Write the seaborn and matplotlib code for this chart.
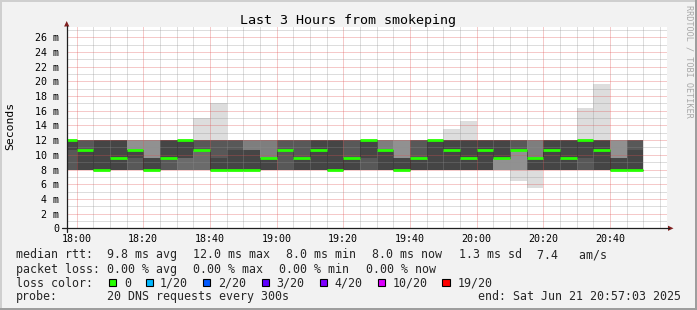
import numpy as np
import pandas as pd
import matplotlib
matplotlib.use("Agg")
import matplotlib.pyplot as plt
import matplotlib.dates as mdates
from matplotlib.patches import Rectangle, Polygon
from matplotlib.lines import Line2D
from matplotlib.ticker import MultipleLocator, FuncFormatter
import seaborn as sns

# ---------------- data ----------------
title = "Last 3 Hours from smokeping"
end_time = pd.Timestamp("2025-06-21 20:57:03")
bar_start = pd.date_range("2025-06-21 17:55", periods=35, freq="5min")
step_minutes = 5
pings_per_step = 20

# discrete DNS response levels (ms) and number of the 20 pings at each level
rtt_levels_ms = [8.0, 9.5, 10.6, 12.0]
n_at_8_0 = [8, 9, 11, 9, 8, 11, 8, 7, 7, 11, 11, 11, 9, 8, 9, 9, 11, 9,
            8, 9, 11, 9, 9, 9, 9, 9, 5, 4, 8, 9, 9, 8, 9, 11, 11]
n_at_9_5 = [0, 0, 0, 2, 1, 4, 3, 2, 0, 1, 0, 0, 5, 0, 3, 0, 0, 3,
            1, 0, 4, 3, 0, 0, 2, 0, 6, 0, 5, 0, 2, 1, 0, 4, 0]
n_at_10_6 = [1, 3, 0, 0, 6, 0, 0, 0, 5, 0, 1, 3, 0, 4, 0, 2, 0, 0,
             0, 5, 0, 0, 0, 2, 0, 2, 0, 7, 0, 2, 0, 0, 2, 0, 1]
n_at_12_0 = [11, 8, 9, 9, 5, 5, 9, 11, 7, 7, 8, 6, 6, 8, 8, 9, 9, 8,
             11, 6, 5, 8, 11, 8, 8, 9, 9, 8, 6, 9, 9, 10, 8, 5, 8]
nan = np.nan
high_outlier_ms = [nan] * 8 + [15.0, 17.1] + [nan] * 13 + [13.55, 14.6] + [nan] * 6 + [16.3, 19.6, nan, nan]
low_outlier_ms = [nan] * 27 + [6.45, 5.45] + [nan] * 6

loss_labels = ["0", "1/20", "2/20", "3/20", "4/20", "10/20", "19/20"]
loss_colors = ["#26ff00", "#00b8ff", "#0059ff", "#5e00ff", "#7e00ff", "#dd00ff", "#ff0000"]

yticks_major = list(range(0, 27, 2))

legend_rows = [
    [(16, "median rtt:"), (107, "9.8 ms avg"), (193, "12.0 ms max"), (286, "8.0 ms min"),
     (372, "8.0 ms now"), (459, "1.3 ms sd"), (537, "7.4   am/s")],
    [(16, "packet loss:"), (107, "0.00 % avg"), (193, "0.00 % max"), (279, "0.00 % min"),
     (365.5, "0.00 % now")],
]
loss_box_x = [109, 145.7, 203, 261.7, 320, 377.7, 442.3]
loss_text_x = [124, 160, 218, 276.7, 334, 392.3, 457.3]
probe_text = "20 DNS requests every 300s"
end_text = "end: Sat Jun 21 20:57:03 2025"

# ---------------- build pings ----------------
pings = []
for k in range(len(bar_start)):
    p = ([rtt_levels_ms[0]] * n_at_8_0[k] + [rtt_levels_ms[1]] * n_at_9_5[k] +
         [rtt_levels_ms[2]] * n_at_10_6[k] + [rtt_levels_ms[3]] * n_at_12_0[k])
    if not np.isnan(high_outlier_ms[k]):
        p.append(high_outlier_ms[k])
    if not np.isnan(low_outlier_ms[k]):
        p.append(low_outlier_ms[k])
    pings.append(sorted(p))
pings = np.array(pings)  # (35, 20)
median = (pings[:, 9] + pings[:, 10]) / 2.0

x0 = mdates.date2num(bar_start.to_pydatetime())
bw = step_minutes / 1440.0
x_end = mdates.date2num(end_time.to_pydatetime())
x_begin = mdates.date2num((end_time - pd.Timedelta(hours=3)).to_pydatetime())

# ---------------- figure ----------------
W, H, DPI = 697, 310, 100
sns.set_style("white")
plt.rcParams["font.family"] = ["DejaVu Sans Mono", "DejaVu Sans"]

fig = plt.figure(figsize=(W / DPI, H / DPI), dpi=DPI, facecolor="#f2f2f2")

def fx(px):
    return px / W

def fy(py):
    return 1 - py / H

ax_left, ax_right, ax_top, ax_bottom = 66.7, 666.7, 27.3, 228.3
ax = fig.add_axes([fx(ax_left), fy(ax_bottom), (ax_right - ax_left) / W, (ax_bottom - ax_top) / H])
ax.set_facecolor("white")
px_per_ms = 7.35
ax.set_xlim(x_begin, x_end)
ax.set_ylim(0, (ax_bottom - ax_top) / px_per_ms)

# smoke layers (outer light -> inner dark)
half = pings_per_step // 2
for i in range(1, half + 1):
    g = int(190 / half * (half - i)) + 50
    col = "#%02x%02x%02x" % (g, g, g)
    lo = pings[:, i - 1]
    hi = pings[:, pings_per_step - i]
    ax.bar(x0, hi - lo, bottom=lo, width=bw, align="edge", color=col,
           linewidth=0, antialiased=False, zorder=1)

# grid on top of smoke
ax.xaxis.set_major_locator(mdates.MinuteLocator(byminute=[0, 20, 40]))
ax.xaxis.set_minor_locator(mdates.MinuteLocator(byminute=range(0, 60, 5)))
ax.xaxis.set_major_formatter(mdates.DateFormatter("%H:%M"))
ax.yaxis.set_major_locator(MultipleLocator(2))
ax.yaxis.set_minor_locator(MultipleLocator(1))
ax.yaxis.set_major_formatter(FuncFormatter(lambda v, p: "0" if abs(v) < 1e-9 else "%d m" % round(v)))
ax.grid(which="minor", color=(0.56, 0.56, 0.56), alpha=0.6, linewidth=0.72,
        linestyle=(0, (1, 1)), zorder=2)
ax.grid(which="major", color=(0.87, 0.31, 0.31), alpha=0.6, linewidth=0.72,
        linestyle=(0, (1, 1)), zorder=2)
ax.set_axisbelow(False)

# median: dark step connection + loss-coloured segments
xs = list(x0) + [x0[-1] + bw]
ys = list(median) + [median[-1]]
sns.lineplot(x=xs, y=ys, ax=ax, drawstyle="steps-post", color="#202020",
             linewidth=0.72, linestyle=(0, (1, 1)), estimator=None, sort=False, zorder=3)
ax.hlines(median, x0, x0 + bw, colors=loss_colors[0], linewidth=2.0, zorder=4)
ax.set_xlim(x_begin, x_end)

for s in ax.spines.values():
    s.set_visible(False)
ax.tick_params(axis="both", which="major", labelsize=7.2, colors="#000000")
ax.tick_params(axis="x", which="major", length=2, width=0.72, color="#e07070", pad=2.0)
ax.tick_params(axis="x", which="minor", length=0)
ax.tick_params(axis="y", which="major", length=2, width=0.72, color="#1f1f1f", pad=3.4)
ax.tick_params(axis="y", which="minor", length=0)
ax.set_xlabel("")
ax.set_ylabel("")

# axis lines and arrows
axis_col = "#1f1f1f"
arrow_col = "#802020"
fig.add_artist(Line2D([fx(62), fx(668.5)], [fy(ax_bottom), fy(ax_bottom)], color=axis_col, lw=0.9))
fig.add_artist(Line2D([fx(ax_left), fx(ax_left)], [fy(232), fy(26)], color=axis_col, lw=0.9))
fig.add_artist(Polygon([[fx(668), fy(ax_bottom - 2.6)], [fx(668), fy(ax_bottom + 2.6)], [fx(673.5), fy(ax_bottom)]],
                       closed=True, color=arrow_col, lw=0))
fig.add_artist(Polygon([[fx(ax_left - 2.6), fy(26.5)], [fx(ax_left + 2.6), fy(26.5)], [fx(ax_left), fy(21)]],
                       closed=True, color=arrow_col, lw=0))

# texts
fig.text(fx(348), fy(24.3), title, ha="center", va="baseline", fontsize=9.6, color="black")
fig.text(fx(10.5), fy(126), "Seconds", rotation=90, ha="center", va="center", fontsize=8.2, color="black")
fig.text(fx(688.5), fy(61), "RRDTOOL / TOBI OETIKER", rotation=270, ha="center", va="center",
         fontsize=6.1, color="#a8a8a8")

leg_fs = 8.4
row_baselines = [258.3, 272.6, 286.6, 300.2]
for row, yb in zip(legend_rows, row_baselines[:2]):
    for xpos, s in row:
        fig.text(fx(xpos), fy(yb), s, ha="left", va="baseline", fontsize=leg_fs)
fig.text(fx(16), fy(row_baselines[2]), "loss color:", ha="left", va="baseline", fontsize=leg_fs)
for bx, tx, lab, col in zip(loss_box_x, loss_text_x, loss_labels, loss_colors):
    fig.add_artist(Rectangle((fx(bx), fy(286.3)), 7.3 / W, 7.6 / H, facecolor=col,
                             edgecolor="black", linewidth=0.8))
    fig.text(fx(tx), fy(row_baselines[2]), lab, ha="left", va="baseline", fontsize=leg_fs)
fig.text(fx(16), fy(row_baselines[3]), "probe:", ha="left", va="baseline", fontsize=leg_fs)
fig.text(fx(107), fy(row_baselines[3]), probe_text, ha="left", va="baseline", fontsize=leg_fs)
fig.text(fx(478.3), fy(row_baselines[3]), end_text, ha="left", va="baseline", fontsize=leg_fs)

# 3D frame
shade_a, shade_b = "#cfcfcf", "#9e9e9e"
fig.add_artist(Rectangle((0, fy(2)), 1, 2 / H, facecolor=shade_a, lw=0))
fig.add_artist(Rectangle((0, 0), 2 / W, 1, facecolor=shade_a, lw=0))
fig.add_artist(Rectangle((0, 0), 1, 2.5 / H, facecolor=shade_b, lw=0))
fig.add_artist(Rectangle((1 - 2.5 / W, 0), 2.5 / W, 1, facecolor=shade_b, lw=0))

fig.savefig("out.png", dpi=DPI, facecolor=fig.get_facecolor())
